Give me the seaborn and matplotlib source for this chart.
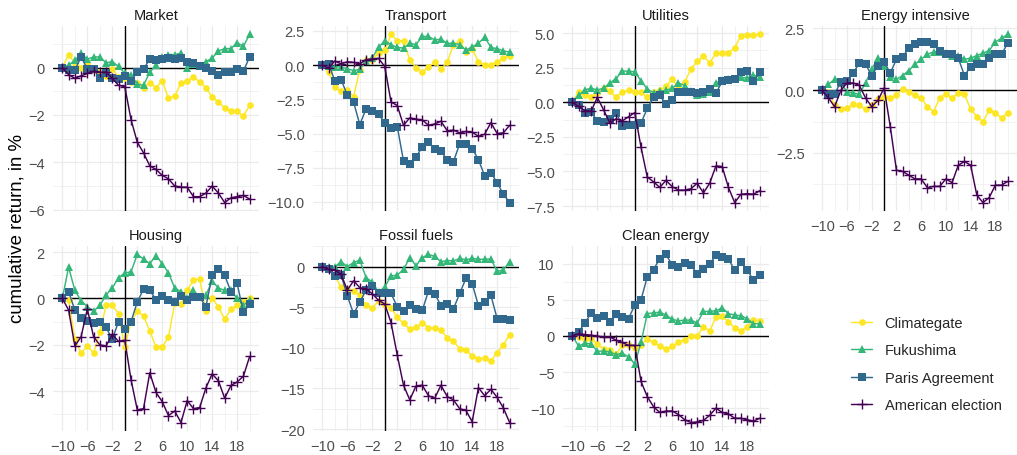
import matplotlib
matplotlib.use("Agg")
import matplotlib.pyplot as plt
import seaborn as sns
import pandas as pd
from matplotlib.ticker import FixedLocator, FuncFormatter
from matplotlib.lines import Line2D

sns.set_theme(style="white")
plt.rcParams['font.family'] = ['Liberation Sans', 'DejaVu Sans']

days = [-10, -9, -8, -7, -6, -5, -4, -3, -2, -1, 0, 1, 2, 3, 4, 5, 6, 7, 8, 9,
        10, 11, 12, 13, 14, 15, 16, 17, 18, 19, 20]

events = ["Climategate", "Fukushima", "Paris Agreement", "American election"]
sectors = ["Market", "Transport", "Utilities", "Energy intensive",
           "Housing", "Fossil fuels", "Clean energy"]

# Market
market_clim = [0, 0.55, 0.2, 0.0, 0.2, -0.1, -0.2, -0.35, -0.05, -0.4, -0.45, -0.6, -0.65, -0.85, -0.65, -0.85, -0.55, -1.3, -1.2, -0.65, -0.55, -0.4, -0.6, -0.85, -1.25, -1.45, -1.7, -1.85, -1.85, -2.05, -1.6]
market_fuku = [0, 0.1, 0.3, 0.6, 0.35, 0.45, 0.45, 0.2, 0.25, 0.05, -0.25, -0.3, -0.7, -0.75, -0.2, 0.1, 0.45, 0.55, 0.55, 0.6, 0.0, 0.15, 0.05, 0.25, 0.4, 0.7, 0.8, 0.8, 1.05, 0.9, 1.4]
market_paris = [0, -0.1, -0.1, 0.45, -0.05, -0.05, -0.45, -0.25, -0.45, -0.5, -0.35, -0.55, -0.2, -0.05, 0.35, 0.3, 0.35, 0.4, 0.35, 0.4, 0.25, 0.2, 0.05, 0.0, -0.15, -0.3, -0.2, -0.2, -0.05, -0.15, 0.45]
market_amer = [0, -0.3, -0.45, -0.35, -0.25, -0.15, -0.2, -0.2, -0.45, -0.75, -0.8, -2.2, -3.15, -3.6, -4.15, -4.3, -4.55, -4.7, -5.0, -5.05, -5.05, -5.45, -5.45, -5.3, -5.0, -5.3, -5.7, -5.5, -5.45, -5.4, -5.55]

# Transport
transport_clim = [0, -0.5, -1.6, -1.9, -1.8, -2.3, -0.35, 0.35, 0.4, 0.9, 1.1, 2.25, 1.8, 1.75, 0.4, -0.2, -0.5, -0.15, 0.25, -0.3, 0.2, 1.5, 1.75, 1.0, 1.2, 0.25, 0.0, 0.0, 0.25, 0.5, 0.7]
transport_fuku = [0, -0.05, -0.1, -0.15, -0.25, -0.4, -0.3, 0.3, 0.55, 1.3, 1.8, 1.5, 1.3, 1.25, 1.6, 1.5, 2.1, 2.1, 1.85, 1.9, 1.6, 1.6, 1.5, 1.1, 1.35, 1.6, 2.05, 1.3, 1.2, 1.05, 0.95]
transport_paris = [0, 0.1, -1.15, -1.05, -2.2, -2.7, -4.35, -3.2, -3.35, -3.6, -4.2, -4.6, -4.5, -7.0, -7.2, -6.75, -5.95, -5.6, -6.15, -6.25, -6.95, -7.05, -5.75, -5.8, -6.1, -6.9, -8.1, -7.85, -8.6, -9.45, -10.05]
transport_amer = [0, -0.2, 0.3, 0.1, 0.25, 0.2, 0.1, 0.4, 0.45, 0.5, -0.1, -2.7, -2.95, -4.4, -3.85, -3.95, -4.0, -4.4, -4.3, -4.1, -4.8, -4.75, -4.95, -4.85, -4.9, -5.2, -5.05, -4.2, -5.0, -4.95, -4.4]

# Utilities
utilities_clim = [0, 0.75, 0.55, 0.35, 0.7, 1.05, 0.8, 0.35, 0.75, 0.85, 0.75, 0.75, 0.35, 0.75, 0.85, 1.15, 1.65, 1.05, 1.45, 2.4, 2.95, 3.35, 2.85, 3.55, 3.55, 3.55, 3.95, 4.8, 4.85, 4.85, 4.9]
utilities_fuku = [0, 0.5, 0.9, 1.0, 0.9, 1.0, 1.4, 1.7, 2.25, 2.25, 2.2, 1.55, 0.95, 0.7, 0.8, 0.85, 1.0, 1.4, 1.2, 0.8, 0.55, 0.6, 0.75, 1.4, 1.6, 1.7, 1.7, 1.8, 1.75, 1.95, 1.85]
utilities_paris = [0, -0.2, -0.8, -0.7, -1.35, -1.4, -1.2, -0.75, -1.7, -1.65, -1.65, -1.5, -0.45, 0.35, 0.5, -0.15, 0.15, 0.75, 0.75, 0.75, 0.65, 0.75, 0.95, 0.65, 1.5, 1.6, 1.65, 2.15, 2.25, 1.5, 2.15]
utilities_amer = [0, -0.3, -0.6, -0.65, 0.35, -0.55, -1.5, -1.2, -1.35, -1.05, -0.75, -3.25, -5.4, -5.75, -6.15, -5.65, -6.1, -6.35, -6.35, -6.25, -5.85, -6.55, -5.85, -4.6, -4.65, -6.15, -7.25, -6.65, -6.6, -6.65, -6.4]

# Energy intensive
energy_clim = [0, -0.05, -0.6, -0.75, -0.7, -0.55, -0.6, -0.75, -0.6, -0.35, -0.25, -0.3, -0.2, 0.05, -0.05, -0.2, -0.3, -0.65, -0.85, -0.3, -0.15, -0.3, -0.1, -0.15, -0.75, -1.05, -1.25, -0.8, -0.9, -1.1, -0.9]
energy_fuku = [0, 0.25, 0.45, 0.3, -0.05, -0.1, -0.15, 0.3, 0.85, 1.3, 1.0, 0.55, 0.45, 0.6, 0.8, 1.05, 1.25, 1.45, 1.55, 1.55, 1.5, 1.4, 1.4, 1.25, 1.3, 1.4, 1.5, 1.6, 1.95, 2.1, 2.25]
energy_paris = [0, -0.15, -0.15, 0.35, 0.4, 0.7, 1.1, 1.05, 0.6, 1.0, 1.15, 0.7, 1.25, 1.35, 1.7, 1.85, 1.95, 1.95, 1.85, 1.6, 1.45, 1.45, 1.3, 0.6, 0.95, 1.05, 1.05, 1.3, 1.45, 1.45, 1.9]
energy_amer = [0, -0.3, -0.65, 0.0, 0.3, 0.3, 0.2, -0.3, -0.65, -0.4, 0.1, -1.45, -3.2, -3.25, -3.4, -3.55, -3.55, -3.9, -3.85, -3.85, -3.55, -3.7, -3.0, -2.85, -3.0, -4.2, -4.5, -4.3, -3.8, -3.8, -3.65]

# Housing
housing_clim = [0, -0.05, -1.75, -2.35, -2.05, -2.35, -1.45, -0.3, -0.3, -0.65, -2.1, -1.0, -0.55, -0.75, -1.4, -2.1, -2.1, -1.65, -0.2, -0.25, 0.35, 0.8, 0.85, -0.55, 0.0, -0.35, -0.9, -0.45, -0.3, -0.15, 0.0]
housing_fuku = [0, 1.35, 0.35, -0.1, -0.35, -0.55, -0.3, 0.15, 0.45, 0.9, 1.1, 1.15, 1.9, 1.7, 1.5, 1.85, 1.5, 1.1, 0.45, 0.3, 0.0, 0.35, 0.05, 0.15, 0.75, 0.45, 0.35, 0.35, 0.0, -0.3, -0.05]
housing_paris = [0, 0.3, -0.5, -0.85, -0.95, -1.05, -1.0, -1.25, -1.75, -1.0, -1.3, -1.0, -0.15, 0.4, 0.35, -0.05, 0.1, -0.05, -0.15, 0.1, -0.05, 0.05, 0.05, -0.35, 1.0, 1.25, 1.0, 0.3, 0.65, -0.6, -0.25]
housing_amer = [0, -0.5, -2.05, -1.65, -0.45, -1.65, -2.0, -2.05, -1.55, -1.85, -1.8, -3.5, -4.8, -4.75, -3.2, -4.05, -4.45, -5.05, -4.85, -5.35, -4.4, -4.75, -4.7, -3.85, -3.25, -3.55, -4.3, -3.75, -3.6, -3.35, -2.5]

# Fossil fuels
fossil_clim = [0, -0.3, -1.15, -2.55, -2.8, -3.05, -3.55, -4.75, -5.15, -4.2, -4.75, -5.05, -6.25, -7.0, -7.7, -7.45, -7.0, -7.5, -7.6, -7.8, -8.75, -9.2, -10.1, -10.25, -11.0, -11.4, -11.2, -11.6, -10.6, -9.6, -8.4]
fossil_fuku = [0, -0.1, 0.0, 0.6, 0.0, 0.5, 0.8, -1.35, -1.9, -3.15, -2.5, -1.15, -1.05, -0.35, 1.1, 0.1, 1.1, 1.5, 1.25, 0.6, 0.75, 0.7, 1.0, 0.85, 1.0, 0.9, 0.9, 0.95, -0.6, -0.4, 0.6]
fossil_paris = [0, -0.35, -1.1, -1.05, -3.6, -5.8, -4.4, -2.9, -2.35, -3.2, -3.2, -3.3, -4.95, -5.5, -4.7, -5.25, -5.4, -3.0, -3.35, -4.8, -4.6, -5.2, -3.3, -1.45, -2.1, -4.8, -4.4, -3.55, -6.4, -6.4, -6.55]
fossil_amer = [0, -0.35, -0.45, -0.95, -2.9, -1.75, -2.6, -2.75, -3.35, -4.15, -4.6, -6.9, -10.9, -14.6, -16.4, -14.7, -14.6, -15.9, -16.2, -14.6, -16.0, -16.4, -17.5, -17.7, -19.1, -14.9, -15.9, -15.1, -16.1, -17.4, -19.2]

# Clean energy
clean_clim = [0, -0.1, -0.4, -0.4, -1.1, -1.8, -2.0, -2.5, -1.3, -1.2, -1.6, -1.2, -0.4, -0.9, -1.4, -1.8, -1.4, -0.9, -0.5, 0.0, 0.0, 1.3, 0.7, 2.6, 2.7, 2.0, 1.1, 0.7, 1.3, 2.2, 2.1]
clean_fuku = [0, -1.4, -1.0, -1.1, -2.1, -2.1, -2.2, -2.6, -2.4, -2.9, -3.9, -0.9, 3.1, 3.2, 3.3, 2.9, 2.3, 2.1, 2.2, 2.2, 1.8, 3.4, 3.4, 3.5, 3.9, 3.1, 2.9, 2.8, 2.4, 1.7, 1.7]
clean_paris = [0, 0.6, 1.75, 3.2, 2.5, 2.7, 2.0, 3.1, 2.6, 2.4, 4.3, 5.0, 8.2, 9.2, 10.7, 11.3, 9.8, 9.5, 10.1, 9.8, 8.6, 9.3, 10.0, 11.2, 11.0, 10.7, 9.1, 10.2, 9.2, 7.7, 8.4]
clean_amer = [0, 0.3, 0.2, 0.1, 0.0, -0.2, -0.1, -0.6, -0.9, -1.3, -1.3, -6.3, -8.4, -9.8, -10.6, -10.4, -10.4, -10.9, -11.6, -12.0, -11.9, -11.7, -11.0, -10.0, -10.6, -10.8, -11.4, -11.4, -11.6, -11.8, -11.4]

x_ticks = [-10, -6, -2, 2, 6, 10, 14, 18]
y_ticks = {
    "Market": [-6, -4, -2, 0],
    "Transport": [-10.0, -7.5, -5.0, -2.5, 0.0, 2.5],
    "Utilities": [-7.5, -5.0, -2.5, 0.0, 2.5, 5.0],
    "Energy intensive": [-2.5, 0.0, 2.5],
    "Housing": [-4, -2, 0, 2],
    "Fossil fuels": [-20, -15, -10, -5, 0],
    "Clean energy": [-10, -5, 0, 5, 10],
}
y_decimals = {"Transport": 1, "Utilities": 1, "Energy intensive": 1}

panel_series = {
    "Market": [market_clim, market_fuku, market_paris, market_amer],
    "Transport": [transport_clim, transport_fuku, transport_paris, transport_amer],
    "Utilities": [utilities_clim, utilities_fuku, utilities_paris, utilities_amer],
    "Energy intensive": [energy_clim, energy_fuku, energy_paris, energy_amer],
    "Housing": [housing_clim, housing_fuku, housing_paris, housing_amer],
    "Fossil fuels": [fossil_clim, fossil_fuku, fossil_paris, fossil_amer],
    "Clean energy": [clean_clim, clean_fuku, clean_paris, clean_amer],
}

rows = []
for sector in sectors:
    for ev, vals in zip(events, panel_series[sector]):
        for d, v in zip(days, vals):
            rows.append((sector, ev, d, v))
df = pd.DataFrame(rows, columns=["sector", "event", "day", "ret"])

colors = {"Climategate": "#FDE725", "Fukushima": "#35B779",
          "Paris Agreement": "#31688E", "American election": "#440154"}
markers = {"Climategate": "o", "Fukushima": "^",
           "Paris Agreement": "s", "American election": "+"}
msizes = {"o": 4.8, "^": 5.6, "s": 5.2, "+": 7.5}

W, H = 1017, 456
fig = plt.figure(figsize=(W / 100, H / 100), dpi=100)
fig.patch.set_facecolor("white")

col_px = [(53, 259), (313, 519), (563, 769), (813, 1017)]
row_px = [(27, 212), (247, 432)]
grid_col = "#EBEBEB"
tick_col = "#4D4D4D"
LW = 1.05


def fmt_factory(dec):
    def f(v, pos):
        s = f"{v:.{dec}f}" if dec else f"{v:g}"
        return s.replace("-", "\u2212")
    return FuncFormatter(f)


for i, sector in enumerate(sectors):
    r, c = divmod(i, 4)
    x0, x1 = col_px[c]
    y0, y1 = row_px[r]
    ax = fig.add_axes([x0 / W, 1 - y1 / H, (x1 - x0) / W, (y1 - y0) / H])
    ax.set_facecolor("white")
    sub = df[df.sector == sector]
    for ev in events:
        s = sub[sub.event == ev]
        mk = markers[ev]
        sns.lineplot(data=s, x="day", y="ret", ax=ax, color=colors[ev],
                     marker=mk, markersize=msizes[mk],
                     markeredgecolor=colors[ev],
                     markeredgewidth=(1.0 if mk == "+" else 0),
                     linewidth=LW, legend=False, errorbar=None, zorder=3)
    ax.axhline(0, color="black", lw=1.0, zorder=2)
    ax.axvline(0, color="black", lw=1.0, zorder=2)

    ymin, ymax = sub.ret.min(), sub.ret.max()
    pad = (ymax - ymin) * 0.05
    ax.set_ylim(ymin - pad, ymax + pad)
    ax.set_xlim(-11.5, 21.5)

    yt = y_ticks[sector]
    step = yt[1] - yt[0]
    ym = [yt[0] - step / 2] + [t + step / 2 for t in yt]
    ax.yaxis.set_major_locator(FixedLocator(yt))
    ax.yaxis.set_minor_locator(FixedLocator(ym))
    ax.yaxis.set_major_formatter(fmt_factory(y_decimals.get(sector, 0)))
    ax.xaxis.set_major_locator(FixedLocator(x_ticks))
    ax.xaxis.set_minor_locator(FixedLocator([-12, -8, -4, 0, 4, 8, 12, 16, 20]))
    ax.xaxis.set_major_formatter(fmt_factory(0))

    ax.grid(which="major", color=grid_col, lw=0.9)
    ax.grid(which="minor", color=grid_col, lw=0.45)
    ax.set_axisbelow(True)
    for sp in ax.spines.values():
        sp.set_visible(False)
    ax.tick_params(which="both", length=0, labelsize=10.5,
                   labelcolor=tick_col, pad=6)
    if i in (0, 1, 2):
        ax.tick_params(labelbottom=False)
    ax.set_xlabel("")
    ax.set_ylabel("")
    ax.set_title(sector, fontsize=10.5, color="#1A1A1A", pad=5)

handles = [Line2D([0], [0], color=colors[ev], marker=markers[ev],
                  markersize=msizes[markers[ev]], markeredgecolor=colors[ev],
                  markeredgewidth=(1.0 if markers[ev] == "+" else 0), lw=LW)
           for ev in events]
fig.legend(handles, events, loc="upper left",
           bbox_to_anchor=(851 / W, 1 - 317 / H), frameon=False,
           fontsize=10.5, handlelength=1.45, handletextpad=0.85,
           labelspacing=0.92, borderpad=0, borderaxespad=0)

fig.text(17 / W, 1 - 229 / H, "cumulative return, in %", rotation=90,
         va="center", ha="center", fontsize=13.4, color="black")

fig.savefig("out.png", dpi=100, facecolor="white")
